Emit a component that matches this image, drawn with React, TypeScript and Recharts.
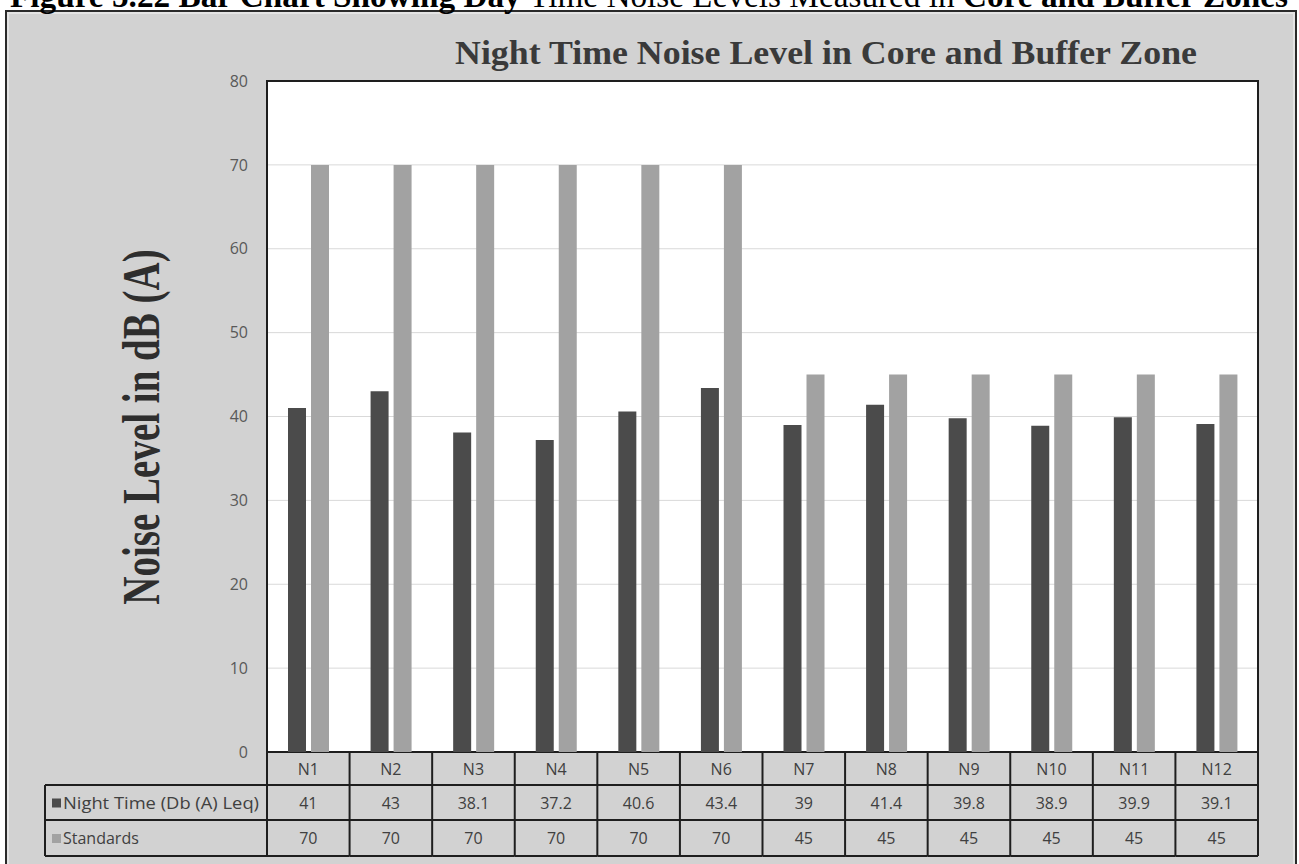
import React from 'react';
import { BarChart, Bar, XAxis, YAxis, CartesianGrid, ReferenceArea } from 'recharts';

const categories = ['N1', 'N2', 'N3', 'N4', 'N5', 'N6', 'N7', 'N8', 'N9', 'N10', 'N11', 'N12'];
const nightValues = [41, 43, 38.1, 37.2, 40.6, 43.4, 39, 41.4, 39.8, 38.9, 39.9, 39.1];
const standardValues = [70, 70, 70, 70, 70, 70, 45, 45, 45, 45, 45, 45];
const yTicks = [0, 10, 20, 30, 40, 50, 60, 70, 80];
const seriesNames = ['Night Time (Db (A) Leq)', 'Standards'];

const NIGHT_COLOR = '#4b4b4b';
const STD_COLOR = '#a2a2a2';
const LINE = '#1e1e1e';
const TABLE_FONT = '"Open Sans", "Noto Sans", sans-serif';
const SERIF = '"Liberation Serif", "Times New Roman", serif';

const data = categories.map((name, i) => ({
  name,
  night: nightValues[i],
  standard: standardValues[i],
}));

// row heights of the data table under the plot
const ROWS = [33, 35, 36];
const LABEL_W = 222;

// each x tick draws its own column of the data table
const TableTick = (props: any) => {
  const { x, y, index, width, payload } = props;
  const half = width ? width / categories.length / 2 : payload.offset;
  const left = x - half;
  const right = x + half;
  const texts = [categories[index], String(nightValues[index]), String(standardValues[index])];
  const tops = [y, y + ROWS[0], y + ROWS[0] + ROWS[1]];
  const bottom = y + ROWS[0] + ROWS[1] + ROWS[2];
  const labelLeft = left - LABEL_W;
  return (
    <g>
      {texts.map((t, r) => (
        <text
          key={r}
          x={x}
          y={tops[r] + ROWS[r] / 2 + 6}
          textAnchor="middle"
          fontFamily={TABLE_FONT}
          fontSize={16}
          fill="#404040"
        >
          {t}
        </text>
      ))}
      <line x1={right} y1={y} x2={right} y2={bottom} stroke={LINE} strokeWidth={2} />
      {index === 0 && <line x1={left} y1={y} x2={left} y2={bottom} stroke={LINE} strokeWidth={2} />}
      {[tops[1], tops[2], bottom].map((yy, k) => (
        <line key={k} x1={left} y1={yy} x2={right} y2={yy} stroke={LINE} strokeWidth={2} />
      ))}
      {index === 0 && (
        <g>
          {[tops[1], tops[2], bottom].map((yy, k) => (
            <line key={k} x1={labelLeft} y1={yy} x2={left} y2={yy} stroke={LINE} strokeWidth={2} />
          ))}
          <line x1={labelLeft} y1={tops[1]} x2={labelLeft} y2={bottom} stroke={LINE} strokeWidth={2} />
          {seriesNames.map((s, k) => (
            <g key={s}>
              <rect
                x={labelLeft + 7}
                y={tops[k + 1] + ROWS[k + 1] / 2 - 4}
                width={9}
                height={9}
                fill={k === 0 ? NIGHT_COLOR : STD_COLOR}
              />
              <text
                x={labelLeft + 18}
                y={tops[k + 1] + ROWS[k + 1] / 2 + 6}
                fontFamily={TABLE_FONT}
                fontSize={16}
                fill="#404040"
                textLength={k === 0 ? 196 : undefined}
                lengthAdjust="spacingAndGlyphs"
              >
                {s}
              </text>
            </g>
          ))}
        </g>
      )}
    </g>
  );
};

const App = () => {
  return (
    <div
      style={{
        position: 'absolute',
        left: 0,
        top: 0,
        width: 1299,
        height: 864,
        overflow: 'hidden',
        background: '#ffffff',
      }}
    >
      {/* grey chart frame */}
      <div
        style={{
          position: 'absolute',
          left: 5,
          top: 10,
          width: 1292,
          height: 900,
          boxSizing: 'border-box',
          border: '2px solid #2a2a2a',
          boxShadow: 'inset 0 0 0 2px #e4e4e4',
          background: '#d2d2d2',
        }}
      />
      <div style={{ position: 'absolute', left: 0, top: 0 }}>
        <BarChart
          width={1299}
          height={864}
          data={data}
          margin={{ top: 81, right: 41, left: 227, bottom: 8 }}
          barSize={18}
          barGap={5}
        >
          <CartesianGrid vertical={false} stroke="#d9d9d9" fill="#ffffff" />
          <XAxis
            dataKey="name"
            height={104}
            axisLine={false}
            tickLine={false}
            tickSize={0}
            tickMargin={0}
            interval={0}
            tick={<TableTick />}
          />
          <YAxis
            width={40}
            domain={[0, 80]}
            ticks={yTicks}
            axisLine={false}
            tickLine={false}
            tickSize={10}
            tickMargin={9}
            tick={{ fontSize: 16, fill: '#595959', fontFamily: TABLE_FONT }}
          />
          <Bar dataKey="night" name={seriesNames[0]} fill={NIGHT_COLOR} isAnimationActive={false} />
          <Bar dataKey="standard" name={seriesNames[1]} fill={STD_COLOR} isAnimationActive={false} />
          <ReferenceArea y1={0} y2={80} fill="none" stroke={LINE} strokeWidth={2} ifOverflow="visible" />
        </BarChart>
      </div>
      <svg
        width={1299}
        height={864}
        style={{ position: 'absolute', left: 0, top: 0, pointerEvents: 'none' }}
      >
        <text x={10} y={7} fontFamily={SERIF} fontSize={33} fill="#000" textLength={1278} lengthAdjust="spacingAndGlyphs">
          <tspan fontWeight="bold">Figure 5.22 Bar Chart Showing Day </tspan>
          <tspan>Time Noise Levels Measured in </tspan>
          <tspan fontWeight="bold">Core and Buffer Zones</tspan>
        </text>
        <text
          x={455}
          y={64}
          fontFamily={SERIF}
          fontWeight="bold"
          fontSize={34}
          fill="#3a3a3a"
          textLength={742}
          lengthAdjust="spacingAndGlyphs"
        >
          Night Time Noise Level in Core and Buffer Zone
        </text>
        <g transform="translate(159 427) scale(1.35 1)">
          <text
            x={0}
            y={0}
            transform="rotate(-90)"
            textAnchor="middle"
            fontFamily={SERIF}
            fontWeight="bold"
            fontSize={39}
            fill="#2e2e2e"
          >
            Noise Level in dB (A)
          </text>
        </g>
      </svg>
    </div>
  );
};

export default App;
